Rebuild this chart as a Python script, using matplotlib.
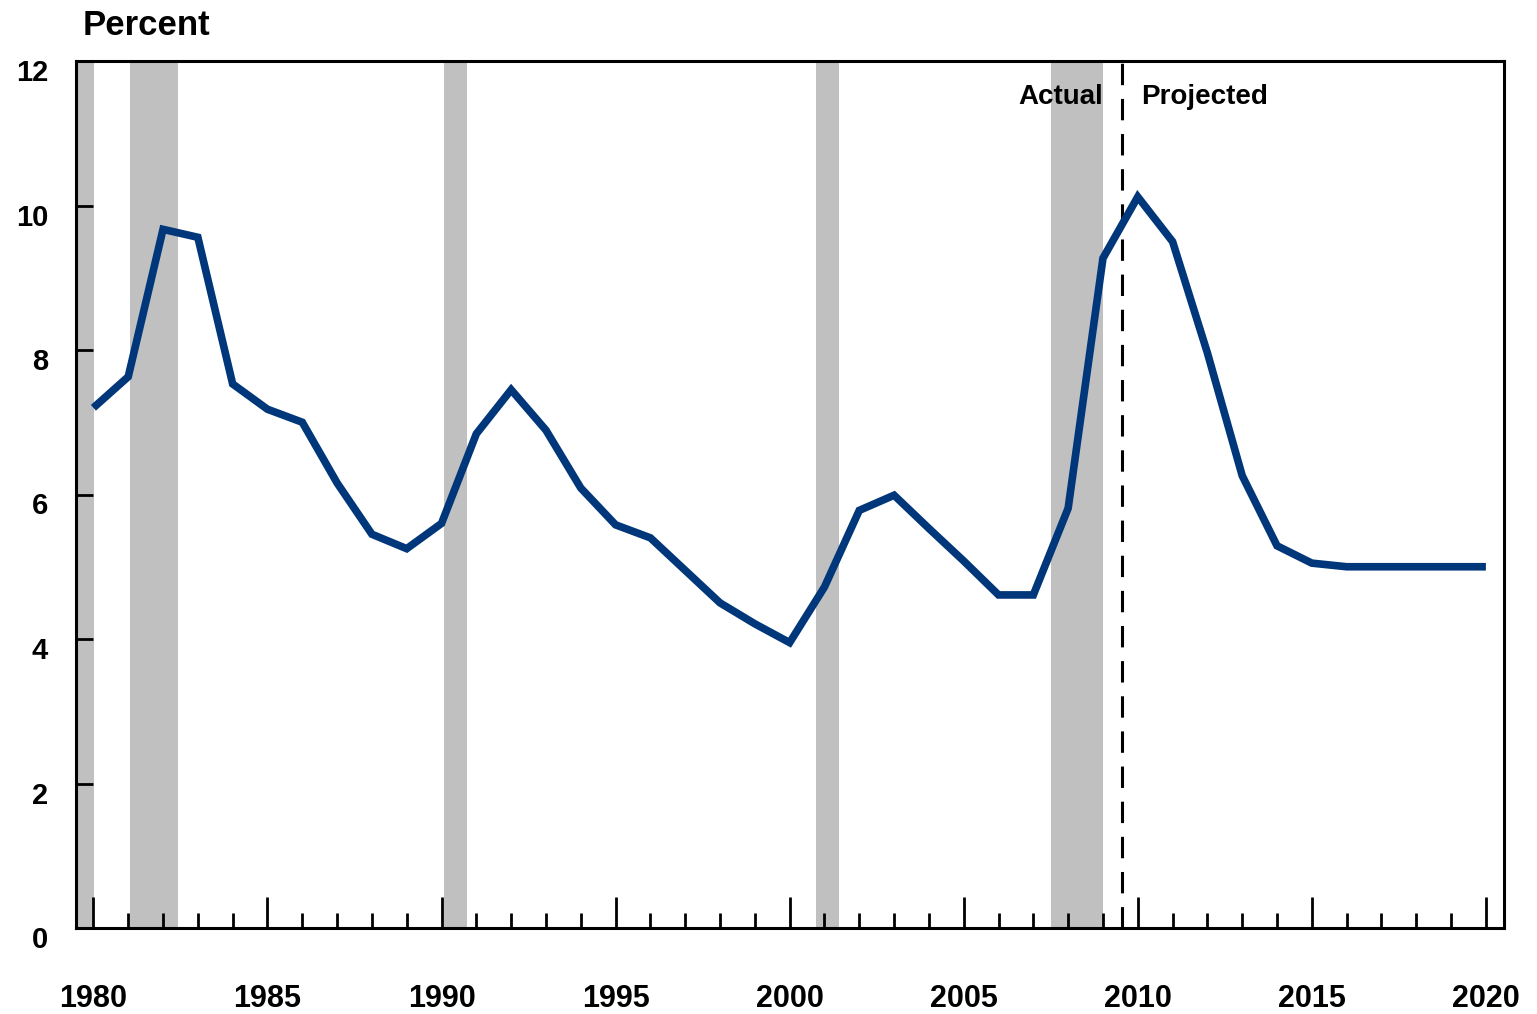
import matplotlib
matplotlib.use("Agg")
import matplotlib.pyplot as plt
import matplotlib.transforms as mtransforms

plt.rcParams['font.family'] = ['Liberation Sans', 'DejaVu Sans']
plt.rcParams['font.weight'] = 'bold'

years = list(range(1980, 2021))
rate = [7.2, 7.63, 9.67, 9.56, 7.53, 7.18, 7.0, 6.16, 5.45, 5.25,
        5.6, 6.84, 7.45, 6.89, 6.09, 5.58, 5.4, 4.95, 4.5, 4.21,
        3.95, 4.72, 5.78, 5.99, 5.53, 5.08, 4.61, 4.61, 5.81, 9.27,
        10.12, 9.5, 7.96, 6.26, 5.29, 5.05, 5.0, 5.0, 5.0, 5.0, 5.0]
recession_start = [1979.5, 1981.04, 1990.06, 2000.75, 2007.5]
recession_end = [1980.03, 1982.42, 1990.72, 2001.41, 2009.0]
split_year = 2009.55
yticks = [0, 2, 4, 6, 8, 10, 12]
xmajor = [1980, 1985, 1990, 1995, 2000, 2005, 2010, 2015, 2020]

fig = plt.figure(figsize=(15.37, 10.14), dpi=100)
ax = fig.add_axes([76/1537, 1-928/1014, (1504-76)/1537, (928-61)/1014])

for s, e in zip(recession_start, recession_end):
    ax.axvspan(s, e, color='#c0c0c0', lw=0, zorder=1)

ax.axvline(split_year, color='black', lw=2.2, dashes=(7, 4.5), zorder=2)
ax.plot(years, rate, color='#00377a', lw=5.5, solid_joinstyle='miter',
        solid_capstyle='butt', zorder=3)

ax.set_xlim(1979.5, 2020.52)
ax.set_ylim(0, 12)

for side in ['left', 'right', 'top', 'bottom']:
    ax.spines[side].set_linewidth(2.2)
    ax.spines[side].set_zorder(5)

ax.set_xticks(xmajor)
ax.set_xticks([y for y in years if y not in xmajor], minor=True)
ax.set_xticklabels([str(y) for y in xmajor])
ax.tick_params(axis='x', which='major', direction='in', length=22, width=2,
               pad=40, labelsize=22, top=False)
ax.tick_params(axis='x', which='minor', direction='in', length=11, width=2,
               top=False)
ax.set_yticks(yticks)
ax.set_yticklabels([str(v) for v in yticks])
ax.tick_params(axis='y', which='major', direction='in', length=12, width=2,
               pad=20, labelsize=21, right=False)

offset = mtransforms.ScaledTranslation(0, -9/100, fig.dpi_scale_trans)
for lab in ax.get_yticklabels():
    lab.set_transform(lab.get_transform() + offset)

ax.text(2009.0, 11.41, 'Actual', ha='right', va='baseline', fontsize=20,
        fontweight='bold', zorder=4)
ax.text(2010.1, 11.41, 'Projected', ha='left', va='baseline', fontsize=20,
        fontweight='bold', zorder=4)

fig.text(83/1537, 1-35/1014, 'Percent', ha='left', va='baseline',
         fontsize=25, fontweight='bold')

fig.savefig('out.png', dpi=100, facecolor='white')
